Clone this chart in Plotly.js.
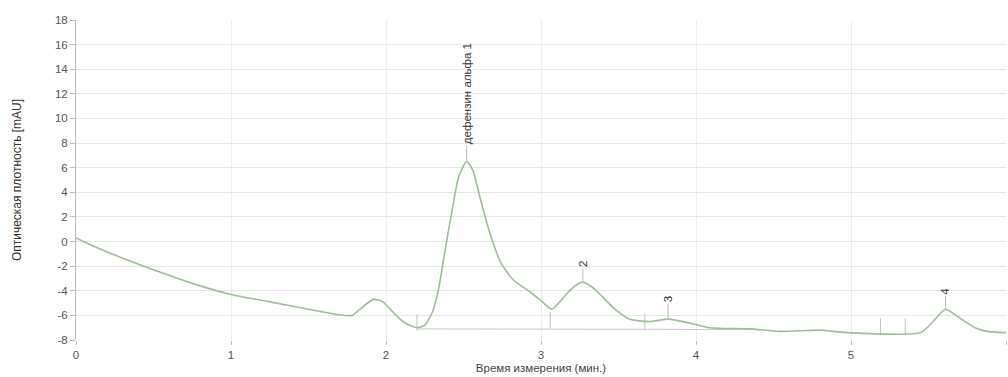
<!DOCTYPE html>
<html><head><meta charset="utf-8">
<script src="https://cdn.plot.ly/plotly-3.0.1.min.js"></script>
<style>html,body{margin:0;padding:0;background:#fff;}#chart{width:1008px;height:377px;}</style>
</head><body><div id="chart"></div>
<script>
// Chromatogram signal (time in min, optical density in mAU)
const timeMin = [0,0.1,0.25,0.5,0.75,1.0,1.25,1.5,1.7,1.78,1.85,1.92,1.98,2.05,2.12,2.2,2.25,2.3,2.34,2.38,2.43,2.47,2.52,2.56,2.61,2.67,2.74,2.82,2.93,3.0,3.07,3.12,3.2,3.27,3.35,3.46,3.57,3.7,3.82,3.95,4.09,4.35,4.54,4.8,4.97,5.45,5.53,5.61,5.7,5.8,5.88,6.0];
const signal = [0.3,-0.3,-1.1,-2.3,-3.4,-4.3,-4.9,-5.5,-5.95,-6.0,-5.3,-4.7,-4.9,-5.8,-6.6,-7.0,-6.8,-5.7,-3.8,-0.8,2.8,5.3,6.5,5.8,3.4,0.7,-1.7,-3.1,-4.1,-4.8,-5.5,-4.9,-3.8,-3.3,-3.9,-5.3,-6.3,-6.5,-6.3,-6.6,-7.0,-7.1,-7.3,-7.2,-7.4,-7.4,-6.5,-5.5,-6.2,-7.0,-7.3,-7.4];

// Peak labels
const peakX = [2.52, 3.27, 3.82, 5.61];
const peakY = [6.5, -3.3, -6.3, -5.5];
const peakLabels = ['дефензин альфа 1', '2', '3', '4'];
const peakOffsets = [-68, -18, -20, -18];

// Integration boundary markers
const boundX = [2.2, 3.06, 3.67, 5.19, 5.35];
const boundY = [-6.6, -6.4, -6.5, -6.9, -6.9];

// Integration baseline
const baseX = [2.2, 4.4];
const baseY = [-7.1, -7.15];

// Axis ticks
const yTicks = [-8,-6,-4,-2,0,2,4,6,8,10,12,14,16,18];
const xTicks = [0,1,2,3,4,5,6];

const traces = [
  {x: baseX, y: baseY, mode: 'lines', line: {color: '#c8c8c8', width: 1}, hoverinfo: 'skip'},
  {x: boundX, y: boundY, mode: 'markers', marker: {symbol: 'line-ns-open', size: 12, color: '#c0c0c0', line: {width: 1, color: '#c0c0c0'}}, hoverinfo: 'skip'},
  {x: timeMin, y: signal, mode: 'lines', line: {color: '#9cc096', width: 1.6, shape: 'spline', smoothing: 0.6}}
];

const annotations = peakX.map((px, i) => ({
  x: px, y: peakY[i], xref: 'x', yref: 'y',
  text: peakLabels[i], textangle: -90,
  showarrow: true, arrowhead: 0, arrowwidth: 1, arrowcolor: '#bdbdbd',
  ax: 0, ay: peakOffsets[i],
  font: {family: 'Liberation Sans, Arial, sans-serif', size: 11.5, color: '#333'}
}));

const layout = {
  width: 1008, height: 377,
  margin: {l: 76, r: 2, t: 20, b: 37},
  paper_bgcolor: '#fff', plot_bgcolor: '#fff',
  showlegend: false,
  font: {family: 'Liberation Sans, Arial, sans-serif', size: 11, color: '#555'},
  xaxis: {
    range: [0, 6], tickvals: xTicks, ticktext: xTicks.map(String),
    showgrid: true, gridcolor: '#ececec', zeroline: false,
    showline: false, ticks: 'outside', ticklen: 4, tickcolor: '#bbb',
    tickfont: {size: 11.5, color: '#555'},
    title: {text: 'Время измерения (мин.)', font: {size: 11.5, color: '#444'}, standoff: 4}
  },
  yaxis: {
    range: [-8, 18], tickvals: yTicks, ticktext: yTicks.map(String),
    showgrid: true, gridcolor: '#e6e6e6', zeroline: false,
    showline: true, linecolor: '#bbb', linewidth: 1,
    ticks: 'outside', ticklen: 5, tickcolor: '#bbb',
    tickfont: {size: 11.5, color: '#555'},
    title: {text: 'Оптическая плотность [mAU]', font: {size: 12, color: '#333'}, standoff: 30}
  },
  annotations: annotations
};

Plotly.newPlot('chart', traces, layout, {displayModeBar: false, staticPlot: true});
</script></body></html>
